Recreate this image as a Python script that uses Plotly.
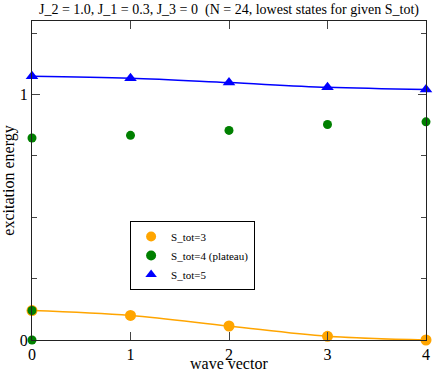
import plotly.graph_objects as go

# wave vector positions
k = [0, 1, 2, 3, 4]

# lowest excitation energies for given S_tot
s3 = [0.12, 0.10, 0.057, 0.015, 0.0]
s5 = [1.075, 1.067, 1.049, 1.030, 1.021]
s4_k = [0, 0, 0, 1, 2, 3, 4]
s4 = [0.0, 0.12, 0.823, 0.834, 0.854, 0.878, 0.889]

serif = "Liberation Serif"

fig = go.Figure()

fig.add_trace(go.Scatter(
    x=k, y=s3, mode="lines+markers", showlegend=False, cliponaxis=False,
    line=dict(color="orange", width=1.5, shape="spline"),
    marker=dict(symbol="circle", size=11, color="orange"),
))
fig.add_trace(go.Scatter(
    x=s4_k, y=s4, mode="markers", showlegend=False, cliponaxis=False,
    marker=dict(symbol="circle", size=9, color="green"),
))
fig.add_trace(go.Scatter(
    x=k, y=s5, mode="lines+markers", showlegend=False, cliponaxis=False,
    line=dict(color="blue", width=1.5, shape="spline"),
    marker=dict(symbol="triangle-up", size=11, color="blue"),
))

# legend entries show only the symbols
for name, sym, col in [("S_tot=3", "circle", "orange"),
                       ("S_tot=4 (plateau)", "circle", "green"),
                       ("S_tot=5", "triangle-up", "blue")]:
    fig.add_trace(go.Scatter(x=[None], y=[None], mode="markers", name=name,
                             marker=dict(symbol=sym, size=10, color=col)))

fig.update_layout(
    width=436, height=371,
    margin=dict(l=32, r=6, t=21, b=31),
    paper_bgcolor="white", plot_bgcolor="white",
    font=dict(family=serif, size=16, color="black"),
    title=dict(text="J_2 = 1.0, J_1 = 0.3, J_3 = 0  (N = 24, lowest states for given S_tot)",
               x=0.5, xanchor="center", xref="paper",
               y=0.976, yanchor="middle", yref="container",
               font=dict(family=serif, size=14)),
    legend=dict(x=0.249, y=0.373, xanchor="left", yanchor="top",
                bgcolor="white", bordercolor="black", borderwidth=1,
                font=dict(family=serif, size=11), itemwidth=30, tracegroupgap=0),
    annotations=[
        dict(text="wave vector", x=0.5, xref="paper", y=-0.073, yref="paper",
             yanchor="middle", showarrow=False, font=dict(family=serif, size=16)),
    ],
)
fig.update_xaxes(
    range=[0, 4], tickvals=k, ticks="inside", ticklen=8,
    showline=True, linecolor="#222", linewidth=1, mirror="allticks",
    showgrid=False, zeroline=False, ticklabeloverflow="allow",
    tickfont=dict(family=serif, size=16),
)
fig.update_yaxes(
    range=[0, 1.3], tickvals=[0, 1], ticks="inside", ticklen=8,
    showline=True, linecolor="#222", linewidth=1, mirror="allticks",
    showgrid=False, zeroline=False,
    minor=dict(dtick=0.25, ticks="inside", ticklen=5, showgrid=False),
    tickfont=dict(family=serif, size=16),
    title=dict(text="excitation energy", standoff=2, font=dict(family=serif, size=16)),
)

fig.write_html("out.html", config={"displayModeBar": False},
               post_script="document.body.style.margin='0';document.body.style.overflow='hidden';")
